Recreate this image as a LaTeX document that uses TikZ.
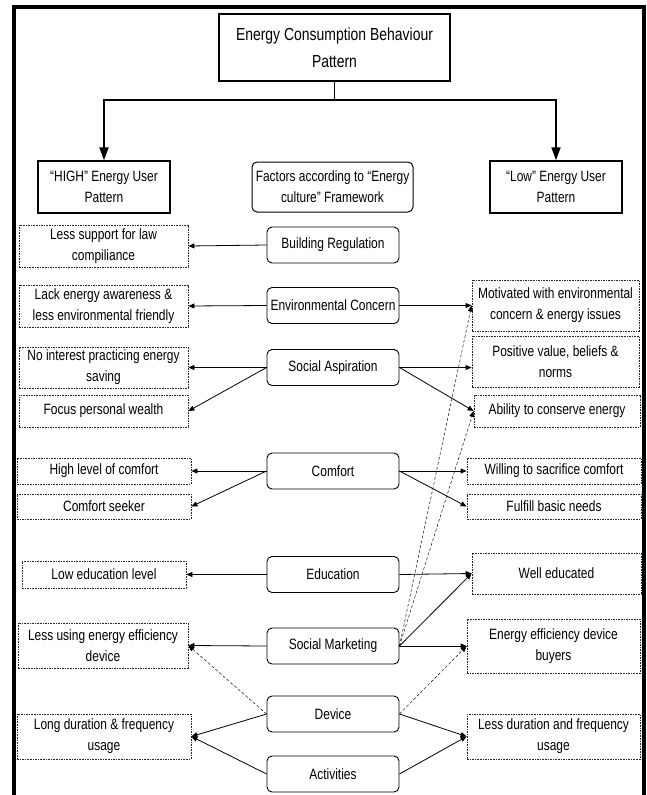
\documentclass[tikz,border=0pt]{standalone}
\usepackage{fontspec}
\setmainfont{Liberation Sans}[FakeStretch=0.8]
\usetikzlibrary{arrows.meta}
\begin{document}
\begin{tikzpicture}[x=1bp,y=-1bp,
  txt/.style={font=\fontsize{15}{21}\selectfont, align=center, inner sep=0pt},
  titlebox/.style={draw, line width=2.6bp, align=center, inner sep=0pt,
    font=\fontsize{17.5}{27}\selectfont, minimum width=231bp, minimum height=67bp},
  hdr/.style={txt, draw, line width=1.4bp, minimum width=132bp, minimum height=52bp},
  frameworkbox/.style={txt, draw, rounded corners=5bp, line width=1bp, minimum width=161bp, minimum height=50bp},
  factor/.style={txt, draw, rounded corners=5bp, line width=0.9bp, minimum width=132bp, minimum height=36bp},
  effect/.style={txt, draw=black!85, dash pattern=on 1.6bp off 1bp, line width=0.8bp},
  link/.style={line width=0.8bp, -{Triangle[length=6bp,width=5bp]}},
  weak/.style={link, line width=0.45bp, dash pattern=on 3bp off 2bp},
  branch/.style={line width=1.8bp, -{Triangle[length=13bp,width=9bp]}},
]
\useasboundingbox (0,0) rectangle (647,795);

% open outer frame
\draw[line width=4bp, miter limit=10] (14,795) -- (14,7) -- (644,7) -- (644,795);

% heading and the two user patterns
\node[titlebox] (title) at (334.5,47.5) {Energy Consumption Behaviour\\Pattern};
\node[hdr] (high) at (104,187) {“HIGH” Energy User\\Pattern};
\node[frameworkbox] (frame) at (332.5,187) {Factors according to “Energy\\culture” Framework};
\node[hdr] (low) at (556,187) {“Low” Energy User\\Pattern};

\coordinate (split) at (334.5,100);
\draw[line width=1.8bp] (title.south) -- (split);
\draw[branch] (split) -| (high.north);
\draw[branch] (split) -| (low.north);

% energy culture factors
\node[factor] (br) at (333,245)   {Building Regulation};
\node[factor] (ec) at (333,305.5) {Environmental Concern};
\node[factor] (sa) at (333,367.5) {Social Aspiration};
\node[factor] (co) at (333,471)   {Comfort};
\node[factor] (ed) at (333,574.5) {Education};
\node[factor] (sm) at (333,646)   {Social Marketing};
\node[factor] (dv) at (333,714)   {Device};
\node[factor] (ac) at (333,774)   {Activities};

% high energy user outcomes
\node[effect, minimum width=169bp, minimum height=42bp] (l1) at (103.5,246)   {Less support for law\\compiliance};
\node[effect, minimum width=169bp, minimum height=42bp] (l2) at (103.5,306)   {Lack energy awareness \&\\less environmental friendly};
\node[effect, minimum width=169bp, minimum height=41bp] (l3) at (103.5,367.5) {No interest practicing energy\\saving};
\node[effect, minimum width=169bp, minimum height=32bp] (l4) at (103.5,411)   {Focus personal wealth};
\node[effect, minimum width=174bp, minimum height=26bp] (l5) at (104,471)     {High level of comfort};
\node[effect, minimum width=174bp, minimum height=25bp] (l6) at (104,506.5)   {Comfort seeker};
\node[effect, minimum width=164bp, minimum height=27bp] (l7) at (104,574.5)   {Low education level};
\node[effect, minimum width=170bp, minimum height=45bp] (l8) at (103,645.5)   {Less using energy efficiency\\device};
\node[effect, minimum width=174bp, minimum height=45bp] (l9) at (104,736.5)   {Long duration \& frequency\\usage};

% low energy user outcomes
\node[effect, minimum width=167bp, minimum height=51bp] (r1) at (555.5,305.5) {Motivated with environmental\\concern \& energy issues};
\node[effect, minimum width=167bp, minimum height=51bp] (r2) at (555.5,361.5) {Positive value, beliefs \&\\norms};
\node[effect, minimum width=166bp, minimum height=32bp] (r3) at (557,411)     {Ability to conserve energy};
\node[effect, minimum width=174bp, minimum height=26bp] (r4) at (554,471)     {Willing to sacrifice comfort};
\node[effect, minimum width=174bp, minimum height=25bp] (r5) at (554,506.5)   {Fulfill basic needs};
\node[effect, minimum width=169bp, minimum height=41bp] (r6) at (556.5,573.5) {Well educated};
\node[effect, minimum width=173bp, minimum height=54bp] (r7) at (553.5,646)   {Energy efficiency device\\buyers};
\node[effect, minimum width=173bp, minimum height=45bp] (r8) at (553.5,736.5) {Less duration and frequency\\usage};

% links towards the high user pattern
\draw[link] (br.west) -- (l1.east);
\draw[link] (ec.west) -- (l2.east);
\draw[link] (sa.west) -- (l3.east);
\draw[link] (sa.west) -- (l4.east);
\draw[link] (co.west) -- (l5.east);
\draw[link] (co.west) -- (l6.east);
\draw[link] (ed.west) -- (l7.east);
\draw[link] (sm.west) -- (l8.east);
\draw[weak] (dv.west) -- (l8.east);
\draw[link] (dv.west) -- (l9.east);
\draw[link] (ac.west) -- (l9.east);

% links towards the low user pattern
\draw[link] (ec.east) -- (r1.west);
\draw[link] (sa.east) -- (sa.east -| r2.west);
\draw[link] (sa.east) -- (r3.west);
\draw[link] (co.east) -- (r4.west);
\draw[link] (co.east) -- (r5.west);
\draw[link] (ed.east) -- (r6.west);
\draw[link] (sm.east) -- (r6.west);
\draw[link] (sm.east) -- (r7.west);
\draw[weak] (sm.east) -- (r1.west);
\draw[weak] (sm.east) -- (r3.west);
\draw[weak] (dv.east) -- (r7.west);
\draw[link] (dv.east) -- (r8.west);
\draw[link] (ac.east) -- (r8.west);
\end{tikzpicture}
\end{document}
